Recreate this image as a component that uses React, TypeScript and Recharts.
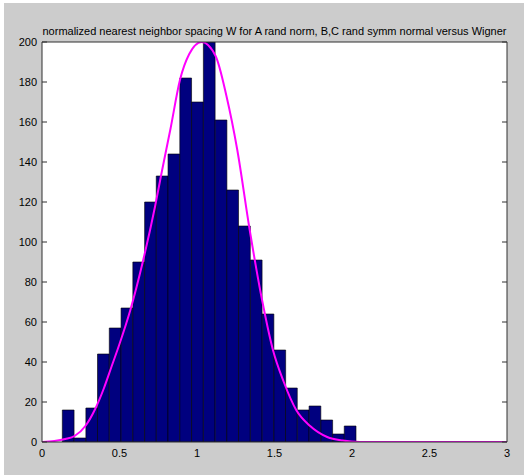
import React from 'react';
import { ComposedChart, Line, XAxis, YAxis, ReferenceArea } from 'recharts';

const title = 'normalized nearest neighbor spacing W for A rand norm, B,C rand symm normal versus Wigner';

// histogram bin centers and counts
const binCenters = [
  0.169, 0.245, 0.321, 0.396, 0.472, 0.548, 0.624, 0.700, 0.775, 0.851,
  0.927, 1.003, 1.079, 1.155, 1.230, 1.306, 1.382, 1.458, 1.534, 1.609,
  1.685, 1.761, 1.837, 1.913, 1.988,
];
const binWidth = 0.0758;
const counts = [
  16, 2, 17, 44, 57, 67, 90, 120, 133, 144,
  182, 170, 200, 161, 126, 108, 91, 64, 46, 27,
  16, 18, 11, 4, 8,
];

// Wigner curve
const curveX = [
  0, 0.08, 0.15, 0.21, 0.28, 0.34, 0.40, 0.45, 0.50, 0.57, 0.65, 0.73, 0.77, 0.83, 0.89, 0.95,
  1.03, 1.12, 1.19, 1.26, 1.34, 1.43, 1.49, 1.56, 1.64, 1.73, 1.84, 1.94, 2.05, 2.5, 3,
];
const curveY = [
  0, 0.5, 1.5, 3, 8, 16, 27, 38, 49, 66, 90, 118, 134, 157, 181, 194,
  200, 193, 173, 146, 106, 67, 46, 30, 16, 8, 2.5, 0.7, 0, 0, 0,
];

const xTicks = [0, 0.5, 1, 1.5, 2, 2.5, 3];
const yTicks = [0, 20, 40, 60, 80, 100, 120, 140, 160, 180, 200];

const bars = binCenters.map((c, i) => ({ x1: c - binWidth / 2, x2: c + binWidth / 2, y: counts[i] }));
const curve = curveX.map((x, i) => ({ x, y: curveY[i] }));

const FONT = '"Liberation Sans", Arial, sans-serif';
const AX = '#303030';
const noLabel = () => <g />;

export default function App() {
  return (
    <div style={{ position: 'absolute', left: 0, top: 0, width: 524, height: 475, background: '#ffffff' }}>
      <div style={{ position: 'absolute', left: 4, top: 3, width: 520, height: 472, background: '#cccccc' }} />
      <div
        style={{
          position: 'absolute', left: 42, top: 25, width: 465, height: 13, lineHeight: '13px',
          fontSize: 11, fontFamily: FONT, color: '#000', textAlign: 'center', whiteSpace: 'nowrap',
        }}
      >
        {title}
      </div>
      <div style={{ position: 'absolute', left: 0, top: 0 }}>
        <ComposedChart width={524} height={475} margin={{ top: 42, right: 17, bottom: 0, left: 0 }}>
          <XAxis
            xAxisId="b" dataKey="x" type="number" domain={[0, 3]} ticks={xTicks} allowDataOverflow
            height={33} tickSize={0} tickMargin={7} tickLine={false} axisLine={{ stroke: AX }}
            tick={{ fontSize: 11, fontFamily: FONT, fill: '#000' }}
          />
          <XAxis
            xAxisId="bm" type="number" domain={[0, 3]} ticks={xTicks} allowDataOverflow mirror
            tickSize={5} tickLine={{ stroke: AX }} axisLine={false} tick={noLabel}
          />
          <XAxis
            xAxisId="t" orientation="top" type="number" domain={[0, 3]} ticks={xTicks} allowDataOverflow mirror
            tickSize={5} tickLine={{ stroke: AX }} axisLine={{ stroke: AX }} tick={noLabel}
          />
          <YAxis
            yAxisId="l" type="number" domain={[0, 200]} ticks={yTicks} allowDataOverflow width={42}
            tickSize={0} tickMargin={5} tickLine={false} axisLine={{ stroke: AX }}
            tick={{ fontSize: 11, fontFamily: FONT, fill: '#000' }}
          />
          <YAxis
            yAxisId="lm" type="number" domain={[0, 200]} ticks={yTicks} allowDataOverflow mirror
            tickSize={5} tickLine={{ stroke: AX }} axisLine={false} tick={noLabel}
          />
          <YAxis
            yAxisId="r" orientation="right" type="number" domain={[0, 200]} ticks={yTicks} allowDataOverflow mirror
            tickSize={5} tickLine={{ stroke: AX }} axisLine={{ stroke: AX }} tick={noLabel}
          />
          <ReferenceArea
            xAxisId="b" yAxisId="l" x1={0} x2={3} y1={0} y2={200}
            fill="#ffffff" fillOpacity={1} stroke="none"
          />
          {bars.map((b, i) => (
            <ReferenceArea
              key={i} xAxisId="b" yAxisId="l" x1={b.x1} x2={b.x2} y1={0} y2={b.y}
              fill="#00007f" fillOpacity={1} stroke="#000000" strokeWidth={0.6} ifOverflow="hidden"
            />
          ))}
          <Line
            xAxisId="b" yAxisId="l" data={curve} dataKey="y" type="monotone"
            stroke="#ff00ff" strokeWidth={2} dot={false} isAnimationActive={false}
          />
        </ComposedChart>
      </div>
    </div>
  );
}
